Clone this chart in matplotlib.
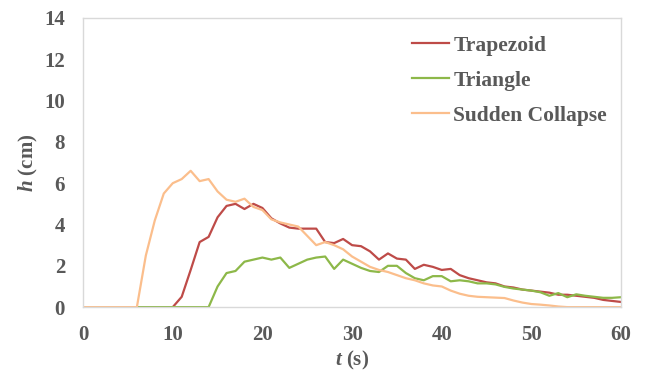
import numpy as np
import matplotlib
matplotlib.use("Agg")
import matplotlib.pyplot as plt

# tiempo (s), un punto por segundo
t = np.arange(0, 61)

trapezoid = [0]*10 + [
    0.0, 0.5, 1.8, 3.15, 3.4, 4.35, 4.9, 5.0, 4.75, 5.0,
    4.8, 4.3, 4.05, 3.85, 3.8, 3.8, 3.8, 3.15, 3.1, 3.3,
    3.0, 2.95, 2.7, 2.3, 2.6, 2.35, 2.3, 1.85, 2.05, 1.95,
    1.8, 1.85, 1.55, 1.4, 1.3, 1.2, 1.15, 1.0, 0.95, 0.85,
    0.8, 0.75, 0.7, 0.6, 0.6, 0.55, 0.5, 0.45, 0.35, 0.3,
    0.25]

triangle = [0]*14 + [
    0.0, 1.0, 1.65, 1.75, 2.2, 2.3, 2.4, 2.3, 2.4, 1.9,
    2.1, 2.3, 2.4, 2.45, 1.85, 2.3, 2.1, 1.9, 1.75, 1.7,
    2.0, 2.0, 1.65, 1.4, 1.3, 1.5, 1.5, 1.25, 1.3, 1.25,
    1.15, 1.15, 1.1, 0.98, 0.9, 0.85, 0.8, 0.72, 0.55, 0.68,
    0.48, 0.62, 0.55, 0.5, 0.45, 0.45, 0.48]

sudden = [0]*6 + [
    0.0, 2.5, 4.2, 5.5, 6.0, 6.2, 6.6, 6.1, 6.2, 5.6,
    5.2, 5.1, 5.25, 4.85, 4.7, 4.25, 4.1, 4.0, 3.9, 3.45,
    3.0, 3.15, 3.0, 2.8, 2.45, 2.2, 1.95, 1.8, 1.7, 1.55,
    1.4, 1.3, 1.15, 1.05, 1.0, 0.8, 0.65, 0.55, 0.5, 0.48,
    0.46, 0.44, 0.32, 0.22, 0.15, 0.12, 0.08, 0.03, 0.0, 0.0,
    0.0, 0.0, 0.0, 0.0, 0.0]

plt.rcParams['font.family'] = ['Liberation Serif', 'DejaVu Serif']
plt.rcParams['font.weight'] = 'bold'
plt.rcParams['mathtext.fontset'] = 'custom'
plt.rcParams['mathtext.it'] = 'Liberation Serif:italic:bold'
plt.rcParams['mathtext.rm'] = 'Liberation Serif:bold'

gris = '#595959'

fig = plt.figure(figsize=(6.49, 3.82), dpi=100)
ax = fig.add_axes([0.128, 0.196, 0.829, 0.757])

ax.plot(t, trapezoid, color='#BE4B48', lw=1.6, label='Trapezoid')
ax.plot(t, triangle, color='#8DB849', lw=1.6, label='Triangle')
ax.plot(t, sudden, color='#FBBE8C', lw=1.6, label='Sudden Collapse')

ax.set_xlim(0, 60)
ax.set_ylim(0, 14)
ax.set_xticks(range(0, 61, 10))
ax.set_yticks(range(0, 15, 2))
ax.tick_params(length=0, labelsize=15, labelcolor=gris)
ax.tick_params(axis='x', pad=13)
ax.tick_params(axis='y', pad=13)

for s in ax.spines.values():
    s.set_color('#D9D9D9')
    s.set_linewidth(1.0)

ax.set_xlabel(r'$t$ (s)', fontsize=15, color=gris, fontweight='bold', labelpad=3)
ax.set_ylabel(r'$h$ (cm)', fontsize=15, color=gris, fontweight='bold', labelpad=3)

leg = ax.legend(loc='upper right', frameon=False, fontsize=15.5, handlelength=1.72,
                handletextpad=0.2, labelspacing=0.7, bbox_to_anchor=(1.01, 1.006))
for txt in leg.get_texts():
    txt.set_color(gris)

fig.savefig('out.png', dpi=100)
